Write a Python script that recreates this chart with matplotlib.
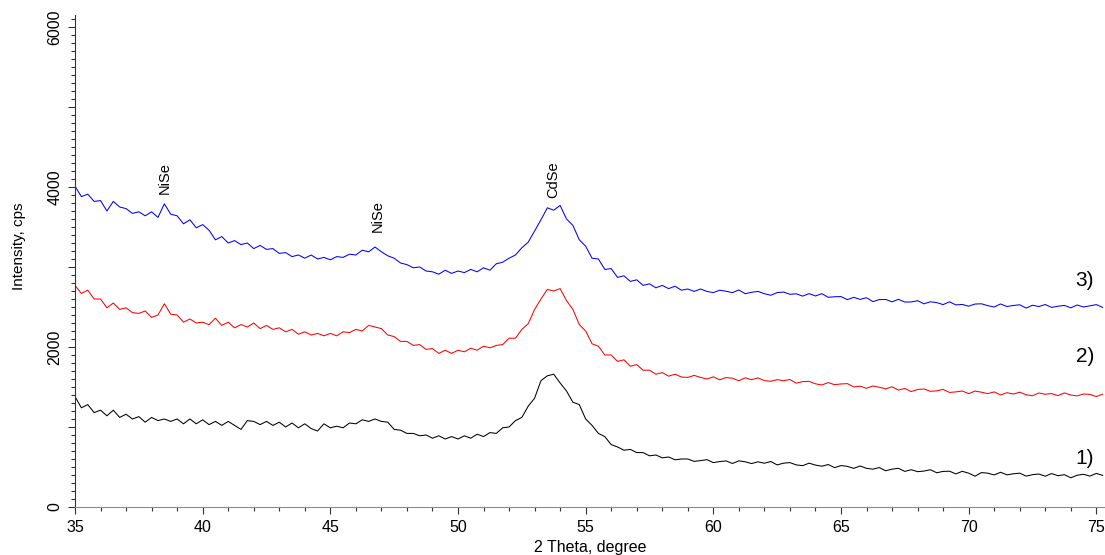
import numpy as np
import matplotlib
matplotlib.use("Agg")
import matplotlib.pyplot as plt
from matplotlib.ticker import MultipleLocator

plt.rcParams['font.family'] = ['Liberation Sans', 'DejaVu Sans']

# 2 theta grid, 0.25 degree step from 35 to 75.25
two_theta = 35 + 0.25 * np.arange(162)

# curve 3) (blue), cps
sample3 = [
    4010, 3880, 3910, 3820, 3830, 3700, 3820, 3750,
    3730, 3670, 3690, 3640, 3690, 3620, 3790, 3660,
    3640, 3540, 3590, 3490, 3530, 3460, 3340, 3380,
    3300, 3330, 3280, 3300, 3230, 3270, 3220, 3230,
    3170, 3180, 3130, 3150, 3110, 3150, 3100, 3120,
    3090, 3130, 3120, 3160, 3150, 3210, 3190, 3250,
    3190, 3140, 3110, 3050, 3030, 2990, 3000, 2950,
    2940, 2910, 2960, 2920, 2950, 2930, 2970, 2940,
    2990, 2960, 3040, 3060, 3110, 3150, 3240, 3310,
    3450, 3590, 3740, 3710, 3770, 3600, 3520, 3340,
    3260, 3110, 3100, 2970, 2980, 2870, 2890, 2820,
    2840, 2770, 2790, 2740, 2770, 2730, 2760, 2710,
    2725, 2695, 2725, 2695, 2680, 2710, 2697, 2680,
    2713, 2666, 2684, 2695, 2666, 2647, 2680, 2687,
    2659, 2665, 2636, 2667, 2638, 2667, 2621, 2628,
    2630, 2592, 2621, 2595, 2616, 2567, 2593, 2594,
    2565, 2596, 2562, 2563, 2579, 2540, 2565, 2555,
    2530, 2565, 2526, 2532, 2510, 2537, 2540, 2517,
    2500, 2538, 2506, 2519, 2528, 2487, 2522, 2506,
    2531, 2495, 2510, 2520, 2490, 2525, 2500, 2515,
    2530, 2495,
]

# curve 2) (red), cps
sample2 = [
    2770, 2670, 2710, 2600, 2600, 2490, 2550, 2470,
    2490, 2430, 2420, 2450, 2370, 2400, 2540, 2410,
    2400, 2310, 2350, 2300, 2310, 2280, 2360, 2270,
    2310, 2240, 2280, 2250, 2300, 2230, 2270, 2220,
    2240, 2190, 2220, 2160, 2190, 2150, 2170, 2140,
    2170, 2140, 2190, 2180, 2220, 2200, 2270, 2250,
    2230, 2150, 2130, 2070, 2070, 2020, 2030, 1970,
    1980, 1920, 1960, 1920, 1960, 1940, 1985, 1960,
    2010, 1990, 2020, 2030, 2110, 2110, 2220, 2290,
    2470, 2600, 2720, 2700, 2730, 2580, 2470, 2280,
    2200, 2040, 2010, 1900, 1900, 1820, 1840, 1760,
    1780, 1710, 1710, 1660, 1680, 1635, 1660, 1625,
    1620, 1645, 1620, 1600, 1627, 1590, 1618, 1610,
    1578, 1615, 1592, 1614, 1580, 1571, 1592, 1578,
    1594, 1548, 1567, 1571, 1540, 1525, 1555, 1529,
    1538, 1542, 1501, 1510, 1484, 1513, 1497, 1477,
    1502, 1462, 1482, 1443, 1469, 1475, 1446, 1452,
    1470, 1432, 1439, 1450, 1417, 1449, 1435, 1417,
    1439, 1401, 1429, 1412, 1435, 1403, 1391, 1425,
    1409, 1418, 1392, 1426, 1400, 1389, 1413, 1407,
    1381, 1410,
]

# curve 1) (black), cps
sample1 = [
    1380, 1240, 1280, 1180, 1210, 1140, 1210, 1120,
    1160, 1100, 1130, 1060, 1120, 1080, 1100, 1070,
    1100, 1040, 1100, 1040, 1090, 1030, 1070, 1020,
    1070, 1020, 970, 1080, 1070, 1030, 1070, 1020,
    1060, 1000, 1050, 990, 1040, 980, 950, 1040,
    990, 1010, 990, 1050, 1040, 1090, 1070, 1100,
    1070, 1060, 970, 960, 920, 920, 890, 900,
    860, 890, 850, 880, 850, 890, 860, 910,
    880, 930, 920, 990, 1000, 1080, 1120, 1260,
    1360, 1580, 1640, 1660, 1550, 1450, 1310, 1280,
    1100, 1020, 920, 880, 780, 750, 710, 720,
    680, 680, 640, 650, 615, 625, 590, 600,
    600, 570, 580, 592, 555, 568, 576, 544,
    577, 565, 543, 565, 547, 569, 526, 548,
    555, 526, 517, 548, 524, 510, 531, 492,
    518, 508, 483, 513, 483, 473, 493, 453,
    473, 484, 445, 466, 442, 449, 466, 428,
    445, 447, 414, 446, 423, 385, 430, 423,
    401, 434, 402, 415, 423, 386, 404, 412,
    385, 418, 391, 404, 365, 397, 409, 386,
    420, 395,
]

curve_labels = ["1)", "2)", "3)"]
curve_label_y = [610, 1880, 2830]

phase_names = ["NiSe", "NiSe", "CdSe"]
phase_x = [38.5, 46.85, 53.75]
phase_y = [4110, 3640, 4090]

fig = plt.figure(figsize=(11.05, 5.55), dpi=100)
ax = fig.add_axes([75 / 1105, 48 / 555, 1030 / 1105, 492 / 555])

ax.plot(two_theta, sample1, color='black', lw=0.75)
ax.plot(two_theta, sample2, color='#ff0000', lw=0.75)
ax.plot(two_theta, sample3, color='#0000ff', lw=0.75)

for lab, yy in zip(curve_labels, curve_label_y):
    ax.text(74.55, yy, lab, fontsize=15, ha='center', va='center')

for name, xx, yy in zip(phase_names, phase_x, phase_y):
    ax.text(xx, yy, name, fontsize=10.5, rotation=90, ha='center', va='center')

ax.set_xlim(35, 75.34)
ax.set_ylim(0, 6150)

ax.spines['top'].set_visible(False)
ax.spines['right'].set_visible(False)
ax.spines['left'].set_color('#333333')
ax.spines['bottom'].set_color('#8a8a8a')

ax.xaxis.set_major_locator(MultipleLocator(5))
ax.xaxis.set_minor_locator(MultipleLocator(1))
ax.set_yticks(range(0, 7000, 1000))
ax.set_yticklabels(["0", "", "2000", "", "4000", "", "6000"], rotation=90, va='center')
ax.yaxis.set_minor_locator(MultipleLocator(100))

ax.tick_params(which='major', direction='out', length=5, width=0.8, color='#333333',
               labelsize=11.5, pad=4)
ax.tick_params(which='minor', direction='out', length=3, width=0.8, color='#333333')

ax.set_ylabel("Intensity, cps", fontsize=11)
ax.yaxis.set_label_coords(-0.0475, 0.53)
ax.set_xlabel("2 Theta, degree", fontsize=11.5)
ax.xaxis.set_label_coords(0.5, -0.068)

fig.savefig("out.png", dpi=100)
